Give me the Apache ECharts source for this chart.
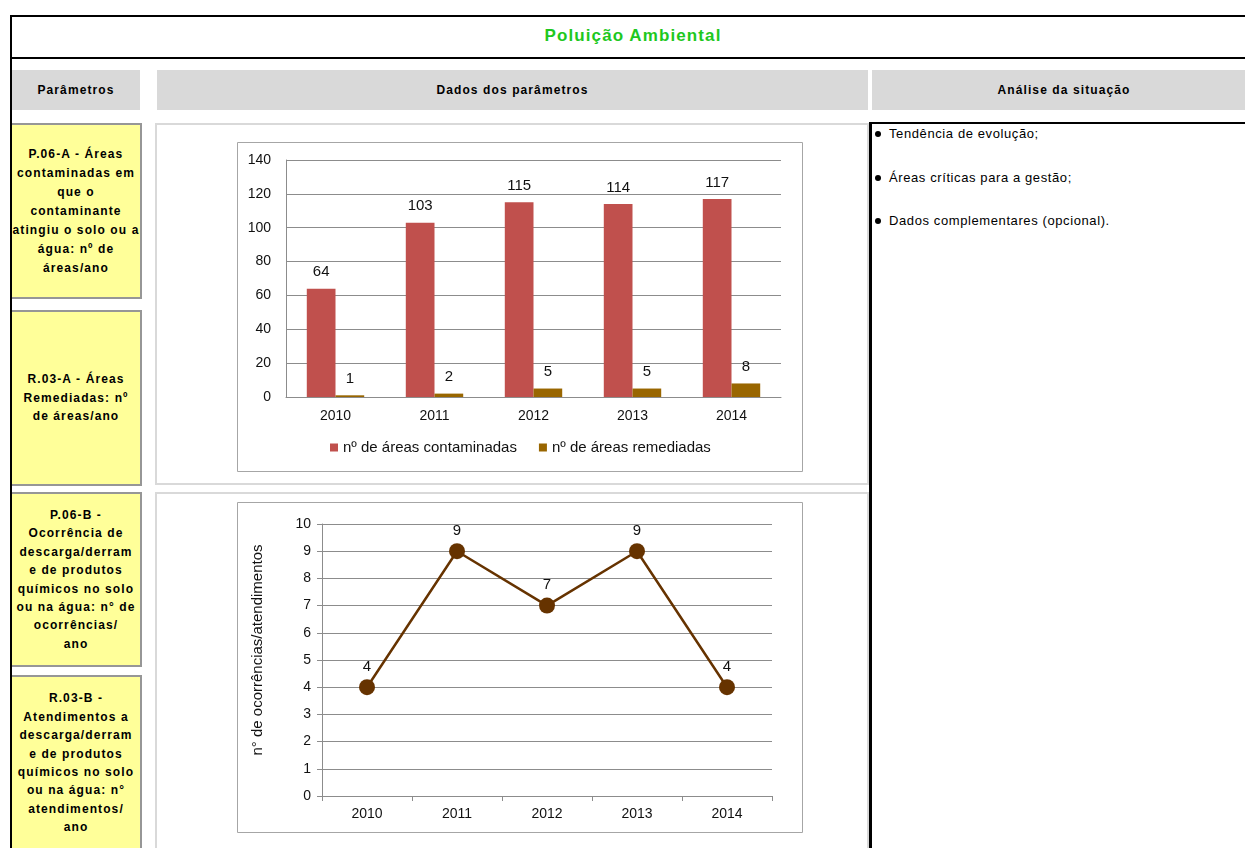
<!DOCTYPE html>
<html>
<head>
<meta charset="utf-8">
<title>Poluição Ambiental</title>
<script src="https://cdn.jsdelivr.net/npm/echarts/dist/echarts.min.js"></script>
<style>
  html, body { margin: 0; padding: 0; background: #fff; }
  #page { position: relative; width: 1245px; height: 848px; overflow: hidden; font-family: "Liberation Sans", Arial, sans-serif; color: #000; }
  .abs { position: absolute; box-sizing: border-box; }
  .line { position: absolute; background: #000; }
  .head { position: absolute; top: 70px; height: 40px; background: #d9d9d9; font-weight: bold; font-size: 12px; letter-spacing: 1.1px; display: flex; align-items: center; justify-content: center; }
  .param { position: absolute; left: 12px; width: 130px; box-sizing: border-box; background: #ffff99; border-top: 2px solid #969696; border-right: 2px solid #969696; border-bottom: 2px solid #969696; font-weight: bold; font-size: 12px; letter-spacing: 1.1px; line-height: 18.4px; text-align: center; white-space: nowrap; display: flex; align-items: center; justify-content: center; }
  .panel { position: absolute; left: 155px; width: 714px; box-sizing: border-box; border: 2px solid #d9d9d9; background: #fff; }
  .bullet { position: absolute; left: 874px; font-size: 13px; letter-spacing: 0.6px; white-space: nowrap; }
  .dot { display: inline-block; width: 6px; height: 6px; border-radius: 50%; background: #000; margin: 0 8px 1px 1px; vertical-align: middle; }
  #chart { position: absolute; left: 0; top: 0; width: 1245px; height: 848px; z-index: 5; }
</style>
</head>
<body>
<div id="page">
  <!-- outer frame and title row -->
  <div class="line" style="left:10px;top:15px;width:1250px;height:2px;"></div>
  <div class="line" style="left:10px;top:15px;width:2px;height:840px;"></div>
  <div class="line" style="left:10px;top:57px;width:1250px;height:2px;"></div>
  <div class="abs" style="left:10px;top:26px;width:1246px;text-align:center;font-weight:bold;font-size:17px;letter-spacing:1.1px;color:#1ec81e;">Poluição Ambiental</div>

  <!-- column headers -->
  <div class="head" style="left:12px;width:128px;">Parâmetros</div>
  <div class="head" style="left:157px;width:711px;">Dados dos parâmetros</div>
  <div class="head" style="left:872px;width:384px;">Análise da situação</div>

  <!-- parameter cells -->
  <div class="param" style="top:123px;height:176px;line-height:19px;"><div>P.06-A - Áreas<br>contaminadas em<br>que o<br>contaminante<br>atingiu o solo ou a<br>água: nº de<br>áreas/ano</div></div>
  <div class="param" style="top:310px;height:176px;"><div>R.03-A - Áreas<br>Remediadas: nº<br>de áreas/ano</div></div>
  <div class="param" style="top:492px;height:175px;"><div>P.06-B -<br>Ocorrência de<br>descarga/derram<br>e de produtos<br>químicos no solo<br>ou na água: n° de<br>ocorrências/<br>ano</div></div>
  <div class="param" style="top:675px;height:176px;"><div>R.03-B -<br>Atendimentos a<br>descarga/derram<br>e de produtos<br>químicos no solo<br>ou na água: n°<br>atendimentos/<br>ano</div></div>

  <!-- chart panels -->
  <div class="panel" style="top:123px;height:362px;"></div>
  <div class="panel" style="top:492px;height:362px;"></div>

  <!-- analysis column -->
  <div class="line" style="left:869px;top:122px;width:3px;height:730px;"></div>
  <div class="line" style="left:869px;top:122px;width:390px;height:2px;"></div>
  <div class="bullet" style="top:126px;"><span class="dot"></span>Tendência de evolução;</div>
  <div class="bullet" style="top:170px;"><span class="dot"></span>Áreas críticas para a gestão;</div>
  <div class="bullet" style="top:213px;"><span class="dot"></span>Dados complementares (opcional).</div>

  <div id="chart"></div>
</div>

<script>
// Years shown on both charts
const years = ['2010', '2011', '2012', '2013', '2014'];
// P.06-A / R.03-A: contaminated and remediated areas per year
const areasContaminadas = [64, 103, 115, 114, 117];
const areasRemediadas = [1, 2, 5, 5, 8];
// P.06-B / R.03-B: spill occurrences / responses per year
const ocorrencias = [4, 9, 7, 9, 4];

const FONT = '"Liberation Sans", Arial, sans-serif';
const GRID_COLOR = '#8c8c8c';
const TEXT_COLOR = '#111';

const chart = echarts.init(document.getElementById('chart'), null, { renderer: 'canvas' });

chart.setOption({
  animation: false,
  backgroundColor: 'transparent',
  textStyle: { fontFamily: FONT },
  graphic: [
    { type: 'rect', z: -10, shape: { x: 237.5, y: 142.5, width: 565, height: 329 }, style: { fill: '#fff', stroke: '#a6a6a6', lineWidth: 1 } },
    { type: 'rect', z: -10, shape: { x: 237.5, y: 502.5, width: 565, height: 330 }, style: { fill: '#fff', stroke: '#a6a6a6', lineWidth: 1 } }
  ],
  legend: {
    data: ['nº de áreas contaminadas', 'nº de áreas remediadas'],
    left: 330,
    top: 440,
    padding: 0,
    icon: 'rect',
    itemWidth: 8,
    itemHeight: 8,
    itemGap: 22,
    textStyle: { fontSize: 15, color: TEXT_COLOR, fontFamily: FONT }
  },
  grid: [
    { left: 286, top: 160, width: 495, height: 237 },
    { left: 322, top: 524, width: 450, height: 272 }
  ],
  xAxis: [
    {
      gridIndex: 0, type: 'category', data: years,
      axisLine: { lineStyle: { color: GRID_COLOR } },
      axisTick: { show: false },
      axisLabel: { color: TEXT_COLOR, fontSize: 14, margin: 12, fontFamily: FONT }
    },
    {
      gridIndex: 1, type: 'category', data: years,
      axisLine: { lineStyle: { color: GRID_COLOR } },
      axisTick: { show: true, length: 5, lineStyle: { color: GRID_COLOR } },
      axisLabel: { color: TEXT_COLOR, fontSize: 14, margin: 11, fontFamily: FONT }
    }
  ],
  yAxis: [
    {
      gridIndex: 0, type: 'value', min: 0, max: 140, interval: 20,
      axisLine: { show: true, lineStyle: { color: GRID_COLOR } },
      axisTick: { show: false },
      splitLine: { lineStyle: { color: GRID_COLOR } },
      axisLabel: { color: TEXT_COLOR, fontSize: 14, margin: 15, fontFamily: FONT }
    },
    {
      gridIndex: 1, type: 'value', min: 0, max: 10, interval: 1,
      name: 'n° de ocorrências/atendimentos',
      nameLocation: 'middle',
      nameRotate: 90,
      nameGap: 57,
      nameTextStyle: { fontSize: 15, color: TEXT_COLOR, fontFamily: FONT, padding: [0, 0, 0, 20] },
      axisLine: { show: true, lineStyle: { color: GRID_COLOR } },
      axisTick: { show: true, length: 5, lineStyle: { color: GRID_COLOR } },
      splitLine: { lineStyle: { color: GRID_COLOR } },
      axisLabel: { color: TEXT_COLOR, fontSize: 14, margin: 11, fontFamily: FONT }
    }
  ],
  series: [
    {
      name: 'nº de áreas contaminadas', type: 'bar', xAxisIndex: 0, yAxisIndex: 0,
      data: areasContaminadas,
      barGap: '0%', barCategoryGap: '42%',
      itemStyle: { color: '#c0504d' },
      label: { show: true, position: 'top', distance: 9, color: TEXT_COLOR, fontSize: 15, fontFamily: FONT }
    },
    {
      name: 'nº de áreas remediadas', type: 'bar', xAxisIndex: 0, yAxisIndex: 0,
      data: areasRemediadas,
      barGap: '0%', barCategoryGap: '42%',
      itemStyle: { color: '#996600' },
      label: { show: true, position: 'top', distance: 9, color: TEXT_COLOR, fontSize: 15, fontFamily: FONT }
    },
    {
      name: 'ocorrências', type: 'line', xAxisIndex: 1, yAxisIndex: 1,
      data: ocorrencias,
      symbol: 'circle', symbolSize: 16,
      lineStyle: { color: '#663300', width: 2.5 },
      itemStyle: { color: '#663300' },
      label: { show: true, position: 'top', distance: 5, color: TEXT_COLOR, fontSize: 15, fontFamily: FONT }
    }
  ]
});
</script>
</body>
</html>
